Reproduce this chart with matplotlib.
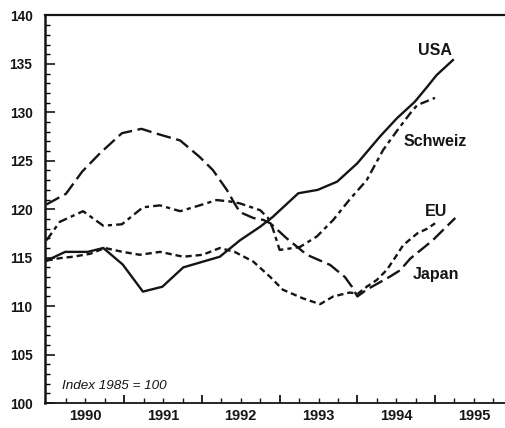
import matplotlib
matplotlib.use('Agg')
import matplotlib.pyplot as plt
from matplotlib.ticker import MultipleLocator, FixedLocator

plt.rcParams['font.family'] = ['Liberation Sans', 'DejaVu Sans']
plt.rcParams['lines.scale_dashes'] = False

# ---- data (decimal year, index 1985 = 100) ----
usa_x = [1990.00, 1990.24, 1990.53, 1990.73, 1990.98, 1991.24, 1991.49, 1991.76,
         1992.23, 1992.49, 1992.75, 1992.91, 1993.24, 1993.49, 1993.74, 1994.00,
         1994.29, 1994.51, 1994.74, 1994.90, 1995.02, 1995.23]
usa_y = [114.7, 115.6, 115.6, 116.0, 114.3, 111.5, 112.0, 114.0,
         115.1, 116.8, 118.2, 119.2, 121.65, 122.0, 122.85, 124.75,
         127.5, 129.4, 131.1, 132.65, 133.85, 135.4]

schweiz_x = [1990.00, 1990.17, 1990.47, 1990.73, 1990.97, 1991.24, 1991.46, 1991.72,
             1991.97, 1992.19, 1992.36, 1992.49, 1992.75, 1992.85, 1992.91, 1993.00,
             1993.26, 1993.48, 1993.69, 1993.90, 1994.12, 1994.33, 1994.51, 1994.68,
             1994.77, 1995.00]
schweiz_y = [116.8, 118.7, 119.8, 118.3, 118.45, 120.2, 120.4, 119.8,
             120.4, 120.95, 120.8, 120.6, 119.9, 119.1, 118.05, 115.8,
             116.1, 117.2, 118.9, 121.0, 123.0, 126.1, 128.1, 129.9,
             130.75, 131.5]

japan_x = [1990.00, 1990.25, 1990.46, 1990.69, 1990.97, 1991.22, 1991.46, 1991.72,
           1991.97, 1992.14, 1992.32, 1992.43, 1992.49, 1992.66, 1992.79, 1992.88,
           1993.09, 1993.35, 1993.65, 1993.84, 1993.93, 1994.00, 1994.12, 1994.42,
           1994.55, 1994.68, 1994.97, 1995.26]
japan_y = [120.5, 121.6, 123.9, 125.8, 127.85, 128.3, 127.7, 127.1,
           125.4, 124.05, 122.0, 120.45, 119.7, 119.1, 118.9, 118.55,
           117.0, 115.3, 114.25, 113.0, 112.0, 111.0, 111.7, 113.05,
           113.7, 114.9, 116.8, 119.1]

eu_x = [1990.00, 1990.17, 1990.34, 1990.56, 1990.75, 1990.98, 1991.20, 1991.46,
        1991.76, 1992.01, 1992.23, 1992.42, 1992.66, 1992.88, 1993.04, 1993.30,
        1993.52, 1993.69, 1993.90, 1994.01, 1994.12, 1994.25, 1994.38, 1994.51,
        1994.59, 1994.77, 1994.90, 1995.00]
eu_y = [114.7, 114.95, 115.1, 115.4, 116.0, 115.6, 115.3, 115.6,
        115.1, 115.3, 116.0, 115.6, 114.6, 113.0, 111.7, 110.8,
        110.2, 111.0, 111.4, 111.3, 112.0, 112.7, 113.75, 115.3,
        116.3, 117.5, 118.0, 118.55]

series_names = ['USA', 'Schweiz', 'EU', 'Japan']
label_x = [1995.0, 1995.0, 1995.01, 1995.01]
label_y = [136.4, 126.95, 119.72, 113.3]

year_labels = ['1990', '1991', '1992', '1993', '1994', '1995']
year_centers = [1990.5, 1991.5, 1992.5, 1993.5, 1994.5, 1995.5]

# ---- figure ----
fig = plt.figure(figsize=(5.05, 4.28), dpi=100)
ax = fig.add_axes([0.0891, 0.0584, 0.9109, 0.9054])

ink = '#151515'
ax.plot(usa_x, usa_y, color=ink, lw=1.7, solid_joinstyle='round')
ax.plot(schweiz_x, schweiz_y, color=ink, lw=1.7, dashes=(6.5, 3, 3, 3))
ax.plot(japan_x, japan_y, color=ink, lw=1.7, dashes=(10.5, 4))
ax.plot(eu_x, eu_y, color=ink, lw=1.7, dashes=(4.5, 2.8))

for name, lx, ly in zip(series_names, label_x, label_y):
    ax.text(lx, ly, name, ha='center', va='center', fontsize=11.5,
            fontweight='bold', color=ink)

ax.text(1990.2, 101.8, 'Index 1985 = 100', ha='left', va='center',
        fontsize=9.7, style='italic', color=ink)

ax.set_xlim(1989.98, 1995.9)
ax.set_ylim(100, 140)

# y ticks
ax.yaxis.set_major_locator(MultipleLocator(5))
ax.yaxis.set_minor_locator(MultipleLocator(1))
ax.tick_params(axis='y', which='major', direction='in', length=7, width=1.2,
               pad=9, labelsize=9.8, colors=ink)
ax.tick_params(axis='y', which='minor', direction='in', length=3.5, width=1.0)
for lab in ax.get_yticklabels():
    lab.set_fontweight('bold')

# x ticks: long ticks at year boundaries, short at quarters, labels mid-year
ax.xaxis.set_major_locator(FixedLocator([1991, 1992, 1993, 1994, 1995]))
ax.set_xticklabels([])
quarters = [y + q for y in range(1990, 1996) for q in (0.25, 0.5, 0.75)]
ax.set_xticks(quarters, minor=True)
ax.set_xticklabels([year_labels[year_centers.index(q)] if q in year_centers else ''
                    for q in quarters], minor=True)
ax.tick_params(axis='x', which='major', direction='in', length=6, width=1.2,
               labelbottom=False)
ax.tick_params(axis='x', which='minor', direction='in', length=3.5, width=1.0,
               pad=4.5, labelsize=10.5, colors=ink)
for lab in ax.get_xticklabels(minor=True):
    lab.set_fontweight('bold')

for side in ['left', 'top', 'bottom']:
    ax.spines[side].set_color(ink)
ax.spines['left'].set_linewidth(1.8)
ax.spines['top'].set_linewidth(1.6)
ax.spines['bottom'].set_linewidth(1.3)
ax.spines['right'].set_visible(False)

fig.savefig('out.png', dpi=100)
